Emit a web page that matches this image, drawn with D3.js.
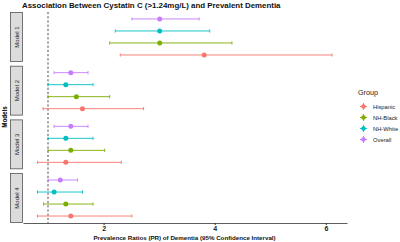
<!DOCTYPE html>
<html>
<head>
<meta charset="utf-8">
<script src="https://cdn.jsdelivr.net/npm/d3@7"></script>
<style>
  body { margin: 0; background: #fff; }
  text { font-family: "Liberation Sans", Arial, sans-serif; }
</style>
</head>
<body>
<svg id="chart"></svg>
<script>
const models = ["Model 1", "Model 2", "Model 3", "Model 4"];
const groups = ["Overall", "NH-White", "NH-Black", "Hispanic"];
const legendGroups = ["Hispanic", "NH-Black", "NH-White", "Overall"];
const colors = ["#F8766D", "#7CAE00", "#00BFC4", "#C77CFF"];
const xTicks = [2, 4, 6];

// point estimates per model, in the order of groups
const estimates = [
  [3.01, 3.01, 3.01, 3.81],
  [1.41, 1.32, 1.51, 1.62],
  [1.41, 1.32, 1.41, 1.32],
  [1.22, 1.11, 1.32, 1.41]
];
const lower = [
  [2.51, 2.21, 2.11, 2.30],
  [1.11, 1.00, 1.00, 0.91],
  [1.11, 1.00, 1.00, 0.81],
  [1.00, 0.81, 0.92, 0.81]
];
const upper = [
  [3.72, 3.91, 4.31, 6.11],
  [1.72, 1.81, 2.11, 2.72],
  [1.72, 1.81, 2.02, 2.32],
  [1.53, 1.62, 1.81, 2.51]
];

const rows = [];
models.forEach((m, i) => groups.forEach((g, j) => {
  rows.push({model: m, group: g, est: estimates[i][j], lo: lower[i][j], hi: upper[i][j]});
}));

const width = 400, height = 242;
const svg = d3.select("#chart").attr("width", width).attr("height", height);

const color = d3.scaleOrdinal().domain(legendGroups).range(colors);
const x = d3.scaleLinear().domain([0.55, 6.38]).range([23, 347]);
const yModel = d3.scaleBand().domain(models).range([12, 223]).paddingInner(0.07);
const yGroup = d3.scalePoint().domain(groups).range([0, yModel.bandwidth()]).padding(0.58);
const yPos = d => yModel(d.model) + yGroup(d.group);

// title
svg.append("text")
  .attr("x", 22).attr("y", 8)
  .attr("font-size", 7.9).attr("font-weight", "bold").attr("fill", "#111")
  .text("Association Between Cystatin C (>1.24mg/L) and Prevalent Dementia");

// strips
const strips = svg.selectAll(".strip").data(models).enter().append("g").attr("class", "strip");
strips.append("rect")
  .attr("x", 10.5).attr("y", d => yModel(d) + 0.5)
  .attr("width", 12).attr("height", yModel.bandwidth() - 1)
  .attr("fill", "#dcdcdc").attr("stroke", "#555").attr("stroke-width", 0.8);
strips.append("text")
  .attr("transform", d => `translate(18.7,${yModel(d) + yModel.bandwidth() / 2}) rotate(-90)`)
  .attr("text-anchor", "middle").attr("font-size", 6).attr("fill", "#1a1a1a")
  .text(d => d);

// y title
svg.append("text")
  .attr("transform", `translate(6.5,117) rotate(-90)`)
  .attr("text-anchor", "middle").attr("font-size", 6.3).attr("font-weight", "bold")
  .text("Models");

// reference line at 1
svg.append("line")
  .attr("x1", x(1)).attr("x2", x(1)).attr("y1", 12).attr("y2", 223)
  .attr("stroke", "#222").attr("stroke-width", 0.8).attr("stroke-dasharray", "2.2,2");

// error bars
const cap = 1.6;
const bars = svg.selectAll(".bar").data(rows).enter().append("g").attr("class", "bar")
  .attr("stroke", d => color(d.group)).attr("stroke-width", 0.9);
bars.append("line")
  .attr("x1", d => x(d.lo)).attr("x2", d => x(d.hi))
  .attr("y1", yPos).attr("y2", yPos);
bars.append("line")
  .attr("x1", d => x(d.lo)).attr("x2", d => x(d.lo))
  .attr("y1", d => yPos(d) - cap).attr("y2", d => yPos(d) + cap);
bars.append("line")
  .attr("x1", d => x(d.hi)).attr("x2", d => x(d.hi))
  .attr("y1", d => yPos(d) - cap).attr("y2", d => yPos(d) + cap);
svg.selectAll(".pt").data(rows).enter().append("circle")
  .attr("cx", d => x(d.est)).attr("cy", yPos).attr("r", 2.5)
  .attr("fill", d => color(d.group));

// x axis
const xAxis = svg.append("g")
  .attr("transform", "translate(0,223)")
  .call(d3.axisBottom(x).tickValues(xTicks).tickFormat(d3.format("d"))
    .tickSize(2).tickSizeOuter(0).tickPadding(1.5));
xAxis.select(".domain").attr("stroke", "#333").attr("stroke-width", 0.8);
xAxis.selectAll(".tick line").attr("stroke", "#333");
xAxis.selectAll(".tick text")
  .attr("font-size", 7).attr("font-weight", "bold").attr("fill", "#222")
  .attr("font-family", "Liberation Sans, Arial, sans-serif");

svg.append("text")
  .attr("x", 184.5).attr("y", 240)
  .attr("text-anchor", "middle").attr("font-size", 6.2).attr("font-weight", "bold").attr("fill", "#111")
  .text("Prevalence Ratios (PR) of Dementia (95% Confidence Interval)");

// legend
const legend = svg.append("g").attr("transform", "translate(358,0)");
legend.append("text").attr("x", 0).attr("y", 95)
  .attr("font-size", 7.2).attr("fill", "#222").text("Group");
const items = legend.selectAll(".item").data(legendGroups).enter().append("g")
  .attr("transform", (d, i) => `translate(0,${106.5 + i * 11})`);
items.append("line").attr("x1", 2).attr("x2", 9).attr("y1", 0).attr("y2", 0)
  .attr("stroke", d => color(d)).attr("stroke-width", 0.9);
items.append("line").attr("x1", 5.5).attr("x2", 5.5).attr("y1", -3.5).attr("y2", 3.5)
  .attr("stroke", d => color(d)).attr("stroke-width", 0.9);
items.append("circle").attr("cx", 5.5).attr("cy", 0).attr("r", 2.3)
  .attr("fill", d => color(d));
items.append("text").attr("x", 15).attr("y", 2.2)
  .attr("font-size", 5.8).attr("fill", "#222").text(d => d);
</script>
</body>
</html>
